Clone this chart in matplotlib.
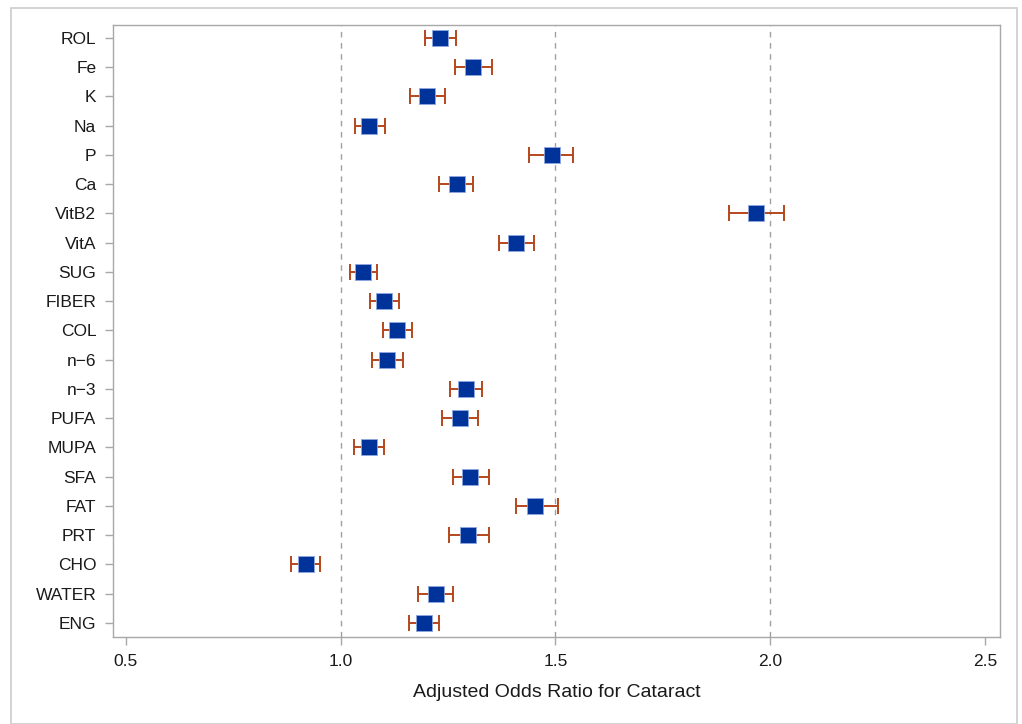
import matplotlib
matplotlib.use("Agg")
import matplotlib.pyplot as plt
from matplotlib.patches import Rectangle

plt.rcParams['font.family'] = ['Liberation Sans', 'DejaVu Sans']

categories = ["ENG", "WATER", "CHO", "PRT", "FAT", "SFA", "MUPA", "PUFA", "n\u22123", "n\u22126",
              "COL", "FIBER", "SUG", "VitA", "VitB2", "Ca", "P", "Na", "K", "Fe", "ROL"]
odds = [1.193, 1.222, 0.919, 1.296, 1.453, 1.300, 1.066, 1.278, 1.292, 1.107,
        1.132, 1.102, 1.051, 1.409, 1.966, 1.271, 1.491, 1.066, 1.202, 1.307, 1.231]
lower = [1.160, 1.181, 0.885, 1.252, 1.409, 1.262, 1.032, 1.237, 1.255, 1.072,
         1.098, 1.068, 1.021, 1.368, 1.904, 1.230, 1.439, 1.033, 1.161, 1.266, 1.196]
upper = [1.228, 1.261, 0.953, 1.345, 1.507, 1.345, 1.100, 1.320, 1.330, 1.144,
         1.165, 1.136, 1.085, 1.451, 2.033, 1.309, 1.542, 1.103, 1.243, 1.352, 1.268]
ref_lines = [1.0, 1.5, 2.0]
xticks = [0.5, 1.0, 1.5, 2.0, 2.5]

fig = plt.figure(figsize=(10.22, 7.24), dpi=100)
ax = fig.add_axes([113/1022, 1-637/724, (1000-113)/1022, (637-25)/724])

ypos = list(range(len(categories)))
for r in ref_lines:
    ax.axvline(r, color='#a0a0a0', linestyle=(0, (4, 4)), linewidth=1.0, zorder=1)

err_lo = [o - l for o, l in zip(odds, lower)]
err_hi = [u - o for o, u in zip(odds, upper)]
ax.errorbar(odds, ypos, xerr=[err_lo, err_hi], fmt='none', ecolor='#b5461c',
            elinewidth=1.4, capsize=6, capthick=1.4, zorder=2)
ax.scatter(odds, ypos, marker='s', s=140, color='#003399', edgecolors='#8fa8e0',
           linewidths=0.6, zorder=3)

ax.set_xlim(0.47, 2.535)
ax.set_ylim(-0.48, 20.44)
ax.set_yticks(ypos)
ax.set_yticklabels(categories, fontsize=12.5, color='#1a1a1a')
ax.set_xticks(xticks)
ax.set_xticklabels([f"{t:.1f}" for t in xticks], fontsize=12.5, color='#1a1a1a')
ax.set_xlabel("Adjusted Odds Ratio for Cataract", fontsize=14, color='#1a1a1a', labelpad=11)
for s in ax.spines.values():
    s.set_color('#a8a8a8')
    s.set_linewidth(1.0)
ax.tick_params(axis='both', colors='#a8a8a8', length=6, width=1.0, labelcolor='#1a1a1a')
ax.tick_params(axis='y', pad=6)
ax.tick_params(axis='x', pad=6)

fig.add_artist(Rectangle((11/1022, 0), (1017-11)/1022, 1-8/724, transform=fig.transFigure,
                         fill=False, edgecolor='#cccccc', linewidth=1.2))

fig.savefig("out.png", dpi=100)
